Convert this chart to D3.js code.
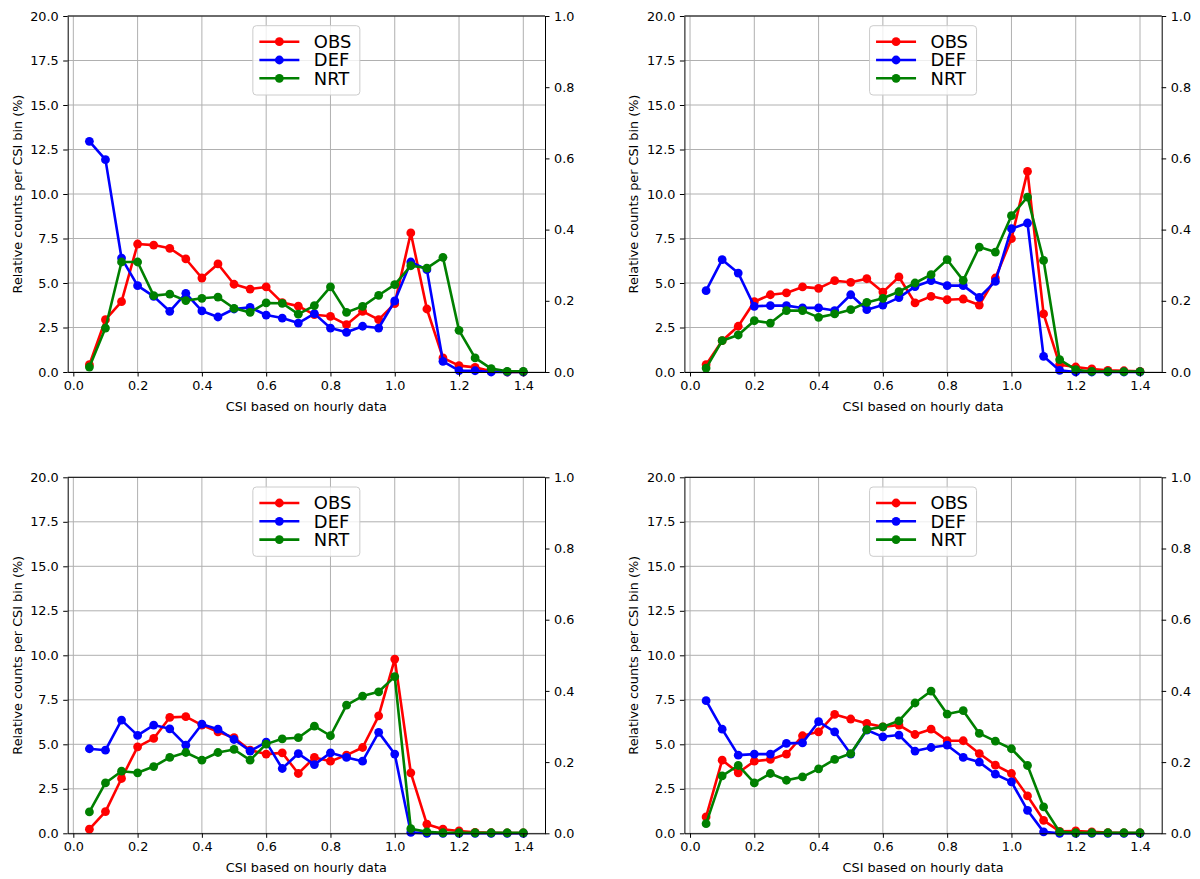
<!DOCTYPE html>
<html>
<head>
<meta charset="utf-8">
<script src="https://cdn.jsdelivr.net/npm/d3@7"></script>
<style>
  html, body { margin: 0; padding: 0; background: #ffffff; }
  svg { display: block; }
  text { font-family: "DejaVu Sans", sans-serif; fill: #000; }
</style>
</head>
<body>
<div id="chart"></div>
<script>
// ---------------- DATA ----------------
const csi = [0.05,0.10,0.15,0.20,0.25,0.30,0.35,0.40,0.45,0.50,0.55,0.60,0.65,0.70,
             0.75,0.80,0.85,0.90,0.95,1.00,1.05,1.10,1.15,1.20,1.25,1.30,1.35,1.40];

const seriesNames = ["OBS", "DEF", "NRT"];

// Top-left panel
const tlOBS = [0.41,2.94,3.95,7.19,7.13,6.95,6.35,5.28,6.07,4.93,4.66,4.78,3.90,3.70,
               3.22,3.13,2.66,3.41,2.94,3.84,7.81,3.54,0.79,0.36,0.26,0.04,0.00,0.00];
const tlDEF = [12.96,11.93,6.40,4.85,4.25,3.41,4.42,3.43,3.09,3.54,3.63,3.20,3.03,2.75,
               3.28,2.47,2.23,2.57,2.47,3.99,6.18,5.75,0.60,0.08,0.07,0.00,0.00,0.00];
const tlNRT = [0.28,2.47,6.18,6.18,4.29,4.38,4.01,4.14,4.21,3.58,3.35,3.88,3.86,3.25,
               3.73,4.78,3.35,3.69,4.31,4.91,5.97,5.84,6.44,2.34,0.79,0.19,0.04,0.04];

// Top-right panel
const trOBS = [0.41,1.76,2.57,3.95,4.34,4.44,4.78,4.70,5.13,5.04,5.24,4.49,5.34,3.88,
               4.25,4.06,4.10,3.76,5.28,7.49,11.27,3.26,0.41,0.28,0.17,0.09,0.07,0.04];
const trDEF = [4.57,6.31,5.56,3.69,3.73,3.73,3.60,3.60,3.45,4.34,3.50,3.76,4.18,4.80,
               5.13,4.85,4.85,4.19,5.09,8.05,8.37,0.88,0.09,0.00,0.00,0.00,0.00,0.00];
const trNRT = [0.22,1.76,2.08,2.88,2.75,3.45,3.45,3.07,3.26,3.50,3.91,4.14,4.51,5.00,
               5.47,6.31,5.15,7.02,6.74,8.78,9.83,6.27,0.69,0.13,0.03,0.02,0.02,0.02];

// Bottom-left panel
const blOBS = [0.23,1.22,3.08,4.86,5.33,6.51,6.55,6.08,5.70,5.37,4.67,4.45,4.52,3.36,
               4.26,4.05,4.39,4.82,6.60,9.79,3.40,0.51,0.23,0.13,0.05,0.03,0.02,0.02];
const blDEF = [4.75,4.67,6.36,5.50,6.08,5.87,4.95,6.13,5.85,5.27,4.62,5.12,3.64,4.48,
               3.86,4.52,4.26,4.05,5.67,4.45,0.05,0.00,0.00,0.00,0.00,0.00,0.00,0.00];
const blNRT = [1.20,2.83,3.49,3.40,3.75,4.26,4.54,4.11,4.54,4.71,4.11,5.01,5.31,5.37,
               6.02,5.48,7.20,7.71,7.95,8.80,0.26,0.08,0.03,0.03,0.03,0.03,0.03,0.03];

// Bottom-right panel
const brOBS = [0.92,4.11,3.40,4.05,4.15,4.45,5.48,5.70,6.68,6.42,6.17,5.98,6.08,5.55,
               5.85,5.20,5.20,4.48,3.83,3.36,2.10,0.73,0.11,0.13,0.08,0.04,0.02,0.02];
const brDEF = [7.45,5.85,4.39,4.45,4.45,5.05,5.08,6.27,5.70,4.45,5.80,5.42,5.52,4.62,
               4.82,4.95,4.26,4.00,3.32,2.89,1.29,0.08,0.00,0.00,0.00,0.00,0.00,0.00];
const brNRT = [0.54,3.23,3.81,2.83,3.36,2.98,3.17,3.62,4.15,4.48,5.83,5.98,6.32,7.32,
               7.99,6.70,6.89,5.61,5.18,4.75,3.81,1.48,0.08,0.03,0.03,0.03,0.03,0.03];

const xTicks  = [0.0,0.2,0.4,0.6,0.8,1.0,1.2,1.4];
const yTicks  = [0.0,2.5,5.0,7.5,10.0,12.5,15.0,17.5,20.0];
const y2Ticks = [0.0,0.2,0.4,0.6,0.8,1.0];

const xLabel = "CSI based on hourly data";
const yLabel = "Relative counts per CSI bin (%)";

// ---------------- LAYOUT ----------------
const W = 1200, H = 879;
const colors = { OBS: "#ff0000", DEF: "#0000ff", NRT: "#008000" };
const aw = 477.3, ah = 356;
const panels = [
  { left: 67.7,  top: 16,    data: { OBS: tlOBS, DEF: tlDEF, NRT: tlNRT } },
  { left: 684.4, top: 16,    data: { OBS: trOBS, DEF: trDEF, NRT: trNRT } },
  { left: 67.7,  top: 477.3, data: { OBS: blOBS, DEF: blDEF, NRT: blNRT } },
  { left: 684.4, top: 477.3, data: { OBS: brOBS, DEF: brDEF, NRT: brNRT } }
];

const svg = d3.select("#chart").append("svg")
  .attr("width", W).attr("height", H)
  .attr("viewBox", `0 0 ${W} ${H}`);
svg.append("rect").attr("width", W).attr("height", H).attr("fill", "#fff");

const x = d3.scaleLinear().domain([-0.0175, 1.4675]).range([0, aw]);
const y = d3.scaleLinear().domain([0, 20]).range([ah, 0]);
const y2 = d3.scaleLinear().domain([0, 1]).range([ah, 0]);

const tickFont = 12.8;

panels.forEach(p => {
  const g = svg.append("g").attr("transform", `translate(${p.left},${p.top})`);

  // grid
  const grid = g.append("g");
  grid.selectAll("line.gx").data(xTicks).join("line")
    .attr("x1", d => x(d)).attr("x2", d => x(d))
    .attr("y1", 0).attr("y2", ah)
    .attr("stroke", "#b0b0b0").attr("stroke-width", 1);
  grid.selectAll("line.gy").data(yTicks).join("line")
    .attr("x1", 0).attr("x2", aw)
    .attr("y1", d => y(d)).attr("y2", d => y(d))
    .attr("stroke", "#b0b0b0").attr("stroke-width", 1);

  // series
  const line = d3.line().x(d => x(d.x)).y(d => y(d.v));
  seriesNames.forEach(name => {
    const pts = csi.map((c, i) => ({ x: c, v: p.data[name][i] }));
    g.append("path").datum(pts)
      .attr("d", line)
      .attr("fill", "none")
      .attr("stroke", colors[name])
      .attr("stroke-width", 2.6)
      .attr("stroke-linejoin", "round");
    g.append("g").selectAll("circle").data(pts).join("circle")
      .attr("cx", d => x(d.x)).attr("cy", d => y(d.v))
      .attr("r", 4.4)
      .attr("fill", colors[name]);
  });

  // axes
  const xAxis = d3.axisBottom(x).tickValues(xTicks).tickFormat(d3.format(".1f"))
    .tickSize(4.5).tickPadding(4.5).tickSizeOuter(0);
  const yAxis = d3.axisLeft(y).tickValues(yTicks).tickFormat(d3.format(".1f"))
    .tickSize(4.5).tickPadding(4.5).tickSizeOuter(0);
  const y2Axis = d3.axisRight(y2).tickValues(y2Ticks).tickFormat(d3.format(".1f"))
    .tickSize(4.5).tickPadding(4.5).tickSizeOuter(0);

  const gx = g.append("g").attr("transform", `translate(0,${ah})`).call(xAxis);
  const gy = g.append("g").call(yAxis);
  const gy2 = g.append("g").attr("transform", `translate(${aw},0)`).call(y2Axis);
  [gx, gy, gy2].forEach(a => {
    a.attr("font-size", null).attr("font-family", null);
    a.selectAll("text").style("font-size", tickFont + "px").attr("fill", "#000");
    a.selectAll("line").attr("stroke", "#000").attr("stroke-width", 1);
    a.select(".domain").attr("stroke", "#000").attr("stroke-width", 1);
  });
  // top spine
  g.append("line").attr("x1", 0).attr("x2", aw).attr("y1", 0).attr("y2", 0)
    .attr("stroke", "#000").attr("stroke-width", 1);

  // axis labels
  g.append("text")
    .attr("x", aw / 2).attr("y", ah + 38.5)
    .attr("text-anchor", "middle")
    .style("font-size", tickFont + "px")
    .text(xLabel);
  g.append("text")
    .attr("transform", `translate(-50.5,${ah / 2}) rotate(-90)`)
    .attr("text-anchor", "middle")
    .attr("dy", "0.35em")
    .style("font-size", tickFont + "px")
    .text(yLabel);

  // legend
  const lw = 107, lh = 69.3;
  const lg = g.append("g").attr("transform", `translate(${aw / 2 - lw / 2},9.7)`);
  lg.append("rect")
    .attr("width", lw).attr("height", lh).attr("rx", 3.5)
    .attr("fill", "#fff").attr("fill-opacity", 0.8)
    .attr("stroke", "#cccccc").attr("stroke-width", 1);
  seriesNames.forEach((name, i) => {
    const ry = 16 + i * 18.3;
    lg.append("line").attr("x1", 6.5).attr("x2", 46.5).attr("y1", ry).attr("y2", ry)
      .attr("stroke", colors[name]).attr("stroke-width", 2.6);
    lg.append("circle").attr("cx", 26.5).attr("cy", ry).attr("r", 4.4)
      .attr("fill", colors[name]);
    lg.append("text").attr("x", 61).attr("y", ry).attr("dy", "0.36em")
      .style("font-size", "17.9px")
      .text(name);
  });
});
</script>
</body>
</html>
